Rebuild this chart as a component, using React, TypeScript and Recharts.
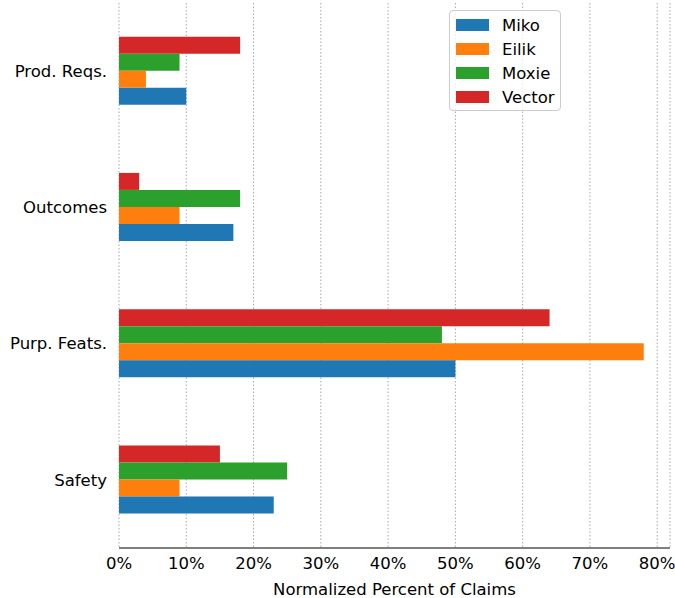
import {
  BarChart,
  Bar,
  XAxis,
  YAxis,
  CartesianGrid,
  Legend,
  Label,
} from 'recharts';

const categories = ['Prod. Reqs.', 'Outcomes', 'Purp. Feats.', 'Safety'];
const miko = [10, 17, 50, 23];
const eilik = [4, 9, 78, 9];
const moxie = [9, 18, 48, 25];
const vector = [18, 3, 64, 15];
const xTicks = [0, 10, 20, 30, 40, 50, 60, 70, 80];

const series = [
  { key: 'Miko', values: miko, color: '#1f77b4' },
  { key: 'Eilik', values: eilik, color: '#ff7f0e' },
  { key: 'Moxie', values: moxie, color: '#2ca02c' },
  { key: 'Vector', values: vector, color: '#d62728' },
];

const chartData = categories.map((category, i) => {
  const row: Record<string, string | number> = { category };
  for (const s of series) row[s.key] = s.values[i];
  return row;
});

const FONT = '"DejaVu Sans", sans-serif';
const FS = 16.5;

function LegendBox() {
  return (
    <div
      style={{
        width: 112,
        height: 101,
        boxSizing: 'border-box',
        border: '1px solid #cccccc',
        borderRadius: 4,
        background: 'rgba(255,255,255,0.8)',
        fontFamily: FONT,
        fontSize: FS,
        color: '#000',
        paddingTop: 2,
      }}
    >
      {series.map((s) => (
        <div key={s.key} style={{ display: 'flex', alignItems: 'center', height: 24 }}>
          <span
            style={{
              display: 'inline-block',
              width: 33,
              height: 12,
              background: s.color,
              marginLeft: 6,
              marginRight: 13,
            }}
          />
          <span>{s.key}</span>
        </div>
      ))}
    </div>
  );
}

export default function App() {
  // bars are drawn top-to-bottom in declaration order, so reverse for the picture
  const barOrder = [...series].reverse();

  return (
    <div style={{ position: 'absolute', left: 0, top: 0, background: '#fff' }}>
      <BarChart
        width={675}
        height={598}
        data={chartData}
        layout="vertical"
        margin={{ top: 3, right: 5, bottom: 0, left: 0 }}
        barCategoryGap="24.7%"
        barGap={0}
        style={{ fontFamily: FONT }}
      >
        <CartesianGrid horizontal={false} stroke="#a8a8a8" strokeDasharray="1.5 2" />
        <XAxis
          type="number"
          domain={[0, 81.9]}
          ticks={xTicks}
          allowDataOverflow
          height={50}
          tickLine={false}
          tickSize={6}
          tickMargin={3}
          axisLine={{ stroke: '#000', strokeWidth: 1.2 }}
          tick={{ fill: '#000', fontSize: FS }}
          tickFormatter={(v) => `${v}%`}
        >
          <Label
            value="Normalized Percent of Claims"
            position="insideBottom"
            offset={3}
            style={{ fill: '#000', fontSize: FS }}
          />
        </XAxis>
        <YAxis
          type="category"
          dataKey="category"
          width={119}
          axisLine={false}
          tickLine={false}
          tickSize={6}
          tickMargin={6}
          tick={{ fill: '#000', fontSize: FS }}
        />
        <Legend
          layout="horizontal"
          verticalAlign="middle"
          align="center"
          wrapperStyle={{ top: 10, left: 449, width: 112, height: 101 }}
          content={() => <LegendBox />}
        />
        {barOrder.map((s) => (
          <Bar key={s.key} dataKey={s.key} fill={s.color} isAnimationActive={false} />
        ))}
      </BarChart>
    </div>
  );
}
